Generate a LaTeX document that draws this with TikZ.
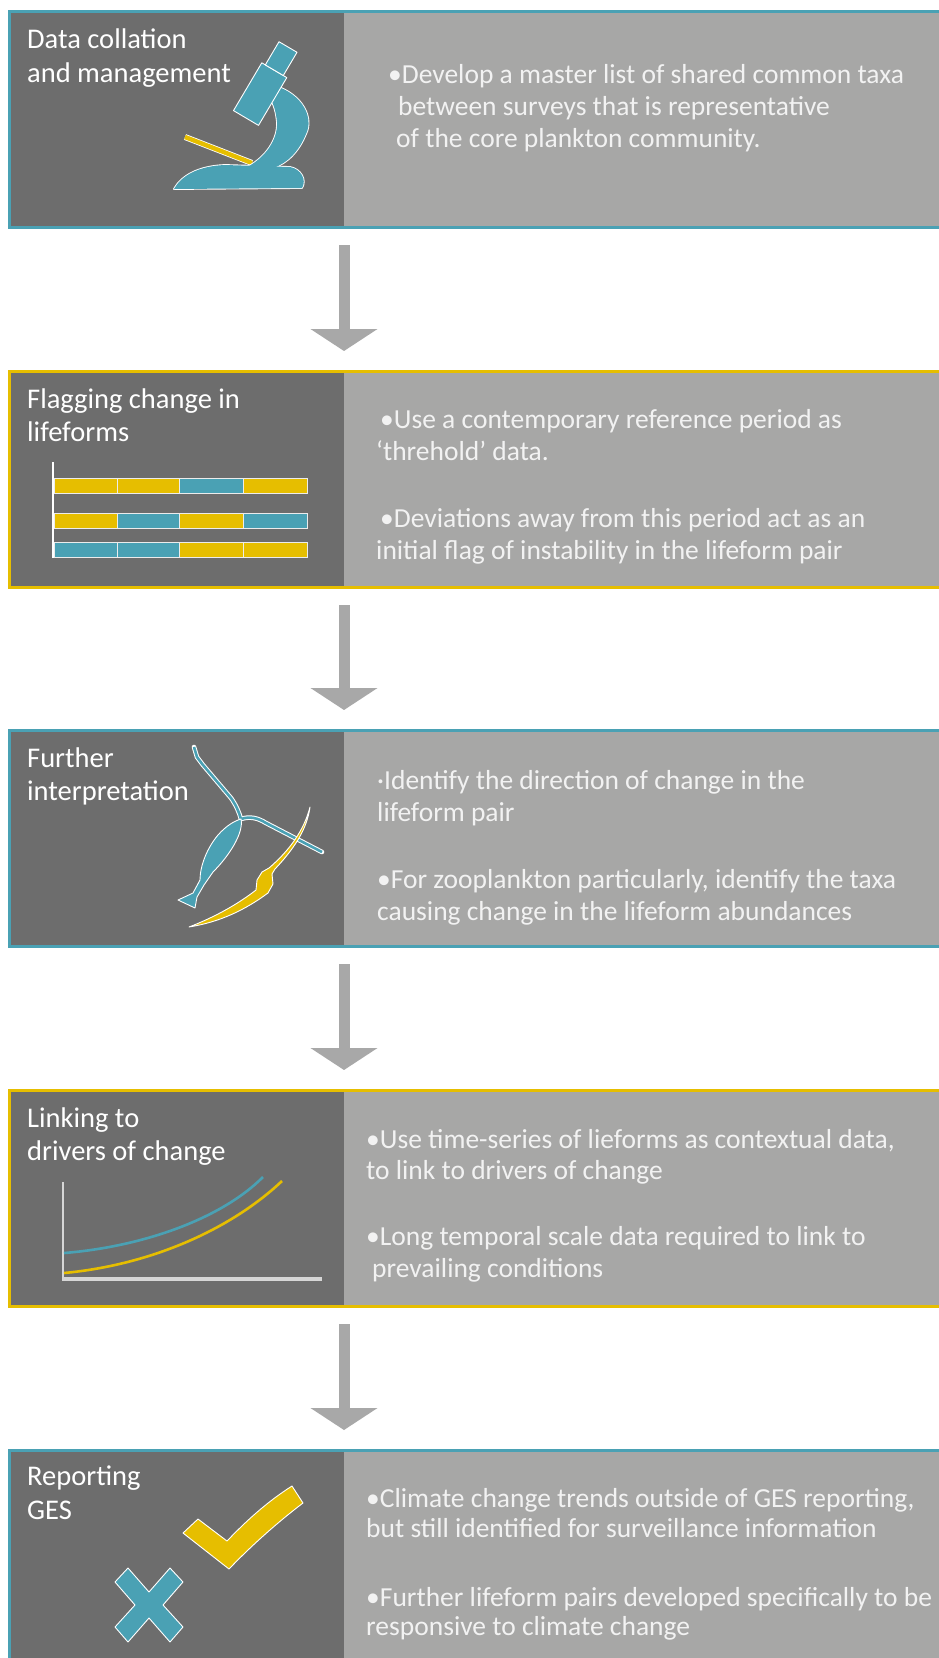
\documentclass[tikz,border=0pt]{standalone}
\usepackage{fontspec}
\setmainfont{Carlito}
\usetikzlibrary{arrows.meta}

\definecolor{panelDark}{HTML}{6D6D6D}
\definecolor{panelLight}{HTML}{A7A7A6}
\definecolor{tealC}{HTML}{4AA1B4}
\definecolor{goldC}{HTML}{E6BE00}
\definecolor{arrowGray}{HTML}{A8A8A8}
\definecolor{axisGray}{HTML}{D6D6D6}
\definecolor{bodyText}{HTML}{F2F2F2}

% icon outlines reused for outline-then-fill drawing
\def\scopeBasePath{(174,189) -- (302,188) .. controls (307,180) and (301,169) .. (290,167) -- (225,165) .. controls (198,166) and (181,176) .. cycle}
\def\scopeArmPath{(276,86) .. controls (303,95) and (314,118) .. (306,134) .. controls (299,151) and (288,163) .. (273,168) -- (249,166) .. controls (265,157) and (278,140) .. (277,122) .. controls (276,112) and (274,105) .. (270,98) -- cycle}

\begin{document}
\begin{tikzpicture}[x=1pt,y=-1pt,
  panel/.style={inner sep=0pt, outer sep=0pt, anchor=north west, minimum height=216pt},
  frame/.style={draw=#1, line width=3pt, inner sep=0pt, outer sep=0pt, anchor=north west,
                minimum width=940pt, minimum height=216pt},
  title/.style={anchor=base west, inner sep=0pt, text=white, font=\fontsize{28.5}{33}\selectfont},
  body/.style={anchor=base west, inner sep=0pt, text=bodyText, font=\fontsize{27.5}{33}\selectfont},
  flow/.style={draw=arrowGray, line width=11pt, -{Triangle[width=66pt,length=22pt]},
               shorten <=18pt, shorten >=20pt},
  icon/.style={draw=white, line width=0.9pt, line join=round},
  cell/.style={draw=white!85!gray, line width=1pt},
  curve/.style={line width=2.6pt},
]
\useasboundingbox (0,0) rectangle (938,1658);
\fill[white] (0,0) rectangle (938,1658);

% ---------- panels ----------
\foreach \i/\t in {1/11,2/371,3/730,4/1090,5/1450}{
  \node[panel, fill=panelLight, minimum width=940pt] (r\i) at (9,\t) {};
  \node[panel, fill=panelDark, minimum width=335pt] (d\i) at (9,\t) {};
}
\node[frame=tealC] (b1) at (9,11) {};
\node[frame=goldC] (b2) at (9,371) {};
\node[frame=tealC] (b3) at (9,730) {};
\node[frame=goldC] (b4) at (9,1090) {};
\node[frame=tealC] (b5) at (9,1450) {};

% ---------- flow arrows ----------
\draw[flow] (d1.south east) -- (d2.north east);
\draw[flow] (d2.south east) -- (d3.north east);
\draw[flow] (d3.south east) -- (d4.north east);
\draw[flow] (d4.south east) -- (d5.north east);

% ---------- titles ----------
\node[title] (h1a) at (27,48) {Data collation};
\node[title] (h1b) at (27,82) {and management};
\node[title] (h2a) at (27,408) {Flagging change in};
\node[title] (h2b) at (27,441) {lifeforms};
\node[title] (h3a) at (27,767) {Further};
\node[title] (h3b) at (27,800) {interpretation};
\node[title] (h4a) at (27,1127) {Linking to};
\node[title] (h4b) at (27,1160) {drivers of change};
\node[title] (h5a) at (27,1485) {Reporting};
\node[title] (h5b) at (27,1519) {GES};

% ---------- descriptions ----------
\node[body] (p1a) at (388,83) {•Develop a master list of shared common taxa};
\node[body] (p1b) at (398,115) {between surveys that is representative};
\node[body] (p1c) at (396,147) {of the core plankton community.};

\node[body] (p2a) at (380,428) {•Use a contemporary reference period as};
\node[body] (p2b) at (376,460) {‘threhold’ data.};
\node[body] (p2c) at (380,527) {•Deviations away from this period act as an};
\node[body] (p2d) at (376,559) {initial flag of instability in the lifeform pair};

\node[body] (p3a) at (377,789) {·Identify the direction of change in the};
\node[body] (p3b) at (377,821) {lifeform pair};
\node[body] (p3c) at (377,888) {•For zooplankton particularly, identify the taxa};
\node[body] (p3d) at (377,920) {causing change in the lifeform abundances};

\node[body] (p4a) at (366,1148) {•Use time-series of lieforms as contextual data,};
\node[body] (p4b) at (366,1179) {to link to drivers of change};
\node[body] (p4c) at (366,1245) {•Long temporal scale data required to link to};
\node[body] (p4d) at (372,1277) {prevailing conditions};

\node[body] (p5a) at (366,1507) {•Climate change trends outside of GES reporting,};
\node[body] (p5b) at (366,1537) {but still identified for surveillance information};
\node[body] (p5c) at (366,1606) {•Further lifeform pairs developed specifically to be};
\node[body] (p5d) at (366,1635) {responsive to climate change};

% ---------- microscope ----------
\draw[white, line width=6pt] (185,137) -- (252,163);
\draw[goldC, line width=4.4pt] (185,137) -- (252,163);
\draw[white, line width=1.8pt, line join=round] \scopeBasePath;
\draw[white, line width=1.8pt, line join=round] \scopeArmPath;
\fill[tealC] \scopeBasePath;
\fill[tealC] \scopeArmPath;
\filldraw[icon, fill=tealC] (261.8,62.8) -- (286.8,77.6) -- (258.5,125.4) -- (233.5,110.6) -- cycle;
\filldraw[icon, fill=tealC] (279,41.7) -- (297,52.3) -- (283.3,75.5) -- (265.3,64.9) -- cycle;

% ---------- lifeform bars ----------
\draw[white, line width=1.5pt] (53,462) -- (53,558);
\foreach \y/\ca/\cb/\cc/\cd in {478/goldC/goldC/tealC/goldC, 513/goldC/tealC/goldC/tealC, 542/tealC/tealC/goldC/goldC}{
  \filldraw[cell, fill=\ca] (54,\y) rectangle (117,\y+15);
  \filldraw[cell, fill=\cb] (117,\y) rectangle (179,\y+15);
  \filldraw[cell, fill=\cc] (179,\y) rectangle (243,\y+15);
  \filldraw[cell, fill=\cd] (243,\y) rectangle (307,\y+15);
}

% ---------- copepod and appendicularian ----------
\draw[white, line width=4.6pt, line cap=round, line join=round]
  (194,747) -- (197,757) -- (203,765) -- (231,798) .. controls (236,805) and (239,812) .. (241,819);
\draw[white, line width=4.6pt, line cap=round, line join=round]
  (241,819) .. controls (250,816) and (258,818) .. (266,823) -- (322,852);
\draw[tealC, line width=2.6pt, line join=round]
  (194,747) -- (197,757) -- (203,765) -- (231,798) .. controls (236,805) and (239,812) .. (241,819);
\draw[tealC, line width=2.6pt, line join=round]
  (241,819) .. controls (250,816) and (258,818) .. (266,823) -- (322,852);
\filldraw[icon, fill=tealC] (241,819) .. controls (244,833) and (229,856) .. (213,872)
  -- (204,885) -- (197,897) -- (195,908) -- (178,900) -- (193,893) -- (200,880)
  .. controls (200,866) and (207,848) .. (218,835) .. controls (226,826) and (234,821) .. cycle;
\filldraw[icon, fill=goldC] (310,807) .. controls (307,830) and (293,850) .. (275,869)
  -- (272,874) -- (273,884) -- (268,893)
  .. controls (245,910) and (220,922) .. (189,927)
  .. controls (215,917) and (238,904) .. (256,890)
  -- (257,880) -- (262,872) -- (269,868)
  .. controls (290,850) and (304,830) .. cycle;

% ---------- time-series graph ----------
\draw[axisGray, line width=2.5pt] (63,1182) -- (63,1280);
\draw[axisGray, line width=3.5pt] (62,1279) -- (322,1279);
\draw[tealC, curve] (64,1253) .. controls (140,1247) and (220,1220) .. (263,1177);
\draw[goldC, curve] (64,1273) .. controls (150,1265) and (230,1230) .. (282,1181);

% ---------- tick and cross ----------
\filldraw[icon, fill=goldC] (198,1519) -- (227,1541) .. controls (250,1517) and (270,1500) .. (292,1486)
  -- (303,1503) .. controls (278,1522) and (252,1545) .. (229,1569) -- (183,1533) -- cycle;
\filldraw[icon, fill=tealC] (115,1582) -- (128,1568) -- (149,1592) -- (170,1568) -- (183,1582)
  -- (163,1605) -- (183,1627) -- (170,1642) -- (149,1618) -- (128,1642) -- (115,1627)
  -- (135,1605) -- cycle;
\end{tikzpicture}
\end{document}
